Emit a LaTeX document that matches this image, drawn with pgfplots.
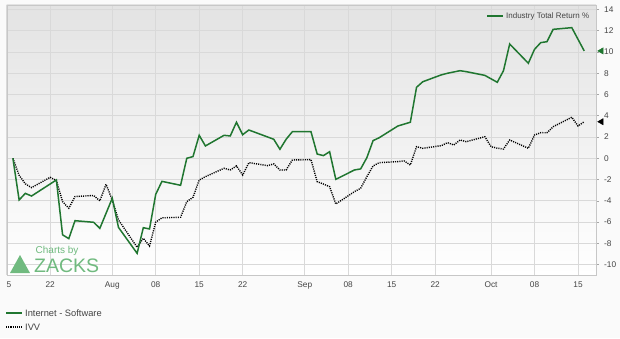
\documentclass[border=0pt]{standalone}
\usepackage{fontspec}
\setmainfont{Liberation Sans}
\usepackage{pgfplots}
\pgfplotsset{compat=1.18}
\definecolor{zgreen}{RGB}{32,118,48}
\definecolor{gridc}{RGB}{217,217,217}
\definecolor{labc}{RGB}{68,68,68}
\definecolor{zlogo}{RGB}{112,186,127}
\definecolor{bgc}{RGB}{250,250,250}
\begin{document}
\begin{tikzpicture}[x=1bp,y=1bp]
\fill[bgc] (0,0) rectangle (620,338);
\begin{axis}[
  at={(6.7bp,63bp)}, anchor=south west, scale only axis,
  width=589.3bp, height=270bp,
  xmin=14, xmax=108.9, ymin=-10.98, ymax=14.42,
  axis background/.style={shade, top color=black!11, middle color=white, bottom color=white},
  axis line style={draw=black!22},
  grid=major, major grid style={draw=gridc, line width=0.9bp},
  xtick={14,21,31,38,45,52,62,69,76,83,92,99,106},
  xticklabels={\phantom{1}5,22,Aug,08,15,22,Sep,08,15,22,Oct,08,15},
  ytick={-10,-8,-6,-4,-2,0,2,4,6,8,10,12,14},
  yticklabels={-10,-8,-6,-4,-2,0,2,4,6,8,10,12,14},
  ytick pos=right, tick align=outside,
  x tick style={draw=none},
  y tick style={draw=black!35, line width=0.6bp},
  major tick length=3bp,
  xticklabel style={font=\fontsize{8.3bp}{10bp}\selectfont, text=labc, inner sep=0pt, anchor=north, yshift=-3.5bp},
  yticklabel style={font=\fontsize{8.3bp}{10bp}\selectfont, text=labc, inner sep=0pt, anchor=west, xshift=5bp},
  clip mode=individual,
  legend style={at={(0.994,0.984)}, anchor=north east, draw=none, fill=none,
     font=\fontsize{8bp}{10bp}\selectfont, text=labc, inner sep=1bp},
  legend image code/.code={\draw[#1] (0bp,0bp) -- (16bp,0bp);},
]
\addlegendimage{zgreen, line width=1.6bp}
\addlegendentry{Industry Total Return \%}
\addplot[forget plot, black, line width=1.4bp, dash pattern=on 1.1bp off 1.1bp] coordinates {
(15,0) (16,-1.6) (17,-2.4) (18,-2.76) (21,-1.79) (22,-2.1) (23,-4.08) (24,-4.7)
(25,-3.6) (28,-3.5) (29,-4.0) (30,-2.45) (31,-3.92) (32,-5.8) (35,-8.37) (36,-7.53)
(37,-8.25) (38,-6.0) (39,-5.6) (42,-5.55) (43,-4.08) (44,-3.67) (45,-2.04) (46,-1.73)
(49,-0.94) (50,-1.1) (51,-0.72) (52,-1.57) (53,-0.41) (56,-0.69) (57,-0.53) (58,-1.1)
(59,-1.1) (60,-0.16) (63,-0.13) (64,-2.2) (65,-2.42) (66,-2.67) (67,-4.3) (70,-3.14)
(71,-2.82) (72,-1.73) (73,-0.72) (74,-0.41) (77,-0.31) (78,-0.25) (79,-0.63) (80,1.09)
(81,0.94) (84,1.19) (85,1.47) (86,1.25) (87,1.72) (88,1.56) (91,2.03) (92,1.09)
(93,0.95) (94,0.87) (95,1.72) (98,0.94) (99,2.19) (100,2.41) (101,2.4) (102,2.97)
(105,3.86) (106,3.04) (107,3.44)
};
\addplot[forget plot, zgreen, line width=1.5bp] coordinates {
(15,0) (16,-3.92) (17,-3.3) (18,-3.55) (22,-2.04) (23,-7.2) (24,-7.56) (25,-5.87)
(28,-6.02) (29,-6.59) (31,-3.76) (32,-6.5) (35,-8.94) (36,-6.53) (37,-6.65) (38,-3.39)
(39,-2.17) (42,-2.54) (43,0.0) (44,0.16) (45,2.16) (46,1.16) (49,2.16) (50,2.1)
(51,3.39) (52,2.22) (53,2.66) (57,1.79) (58,0.85) (59,1.79) (60,2.5) (63,2.5)
(64,0.4) (65,0.25) (66,0.62) (67,-1.98) (70,-1.1) (71,-1.0) (72,0.06) (73,1.66)
(74,1.94) (77,3.04) (79,3.39) (80,6.68) (81,7.2) (84,7.85) (85,8.0) (87,8.24)
(88,8.15) (91,7.8) (93,7.15) (94,8.24) (95,10.75) (98,8.94) (99,10.25) (100,10.88)
(101,10.97) (102,12.13) (105,12.29) (107,10.1)
};
\addplot[forget plot, only marks, clip=false, zgreen, mark=triangle*, mark size=3.6bp, mark options={rotate=90}] coordinates {(109.75,10.1)};
\addplot[forget plot, only marks, clip=false, black, mark=triangle*, mark size=3.6bp, mark options={rotate=90}] coordinates {(109.75,3.44)};
\end{axis}
% lower legend
\draw[zgreen, line width=1.5bp] (6,25) -- (22,25);
\node[anchor=west, inner sep=0pt, text=labc, font=\fontsize{9.3bp}{11bp}\selectfont] at (25,25) {Internet - Software};
\draw[black, line width=1.4bp, dash pattern=on 1.1bp off 1.1bp] (6,11) -- (22,11);
\node[anchor=west, inner sep=0pt, text=labc, font=\fontsize{9.3bp}{11bp}\selectfont] at (25,11) {IVV};
% watermark
\fill[zlogo] (10,65) -- (30,65) -- (20,83) -- cycle;
\node[anchor=west, inner sep=0pt, text=zlogo, font=\fontsize{10bp}{12bp}\selectfont] at (35.5,87) {Charts by};
\node[anchor=base west, inner sep=0pt, text=zlogo, font=\fontsize{19.5bp}{20bp}\selectfont] at (34,66) {ZACKS};
\end{tikzpicture}
\end{document}
